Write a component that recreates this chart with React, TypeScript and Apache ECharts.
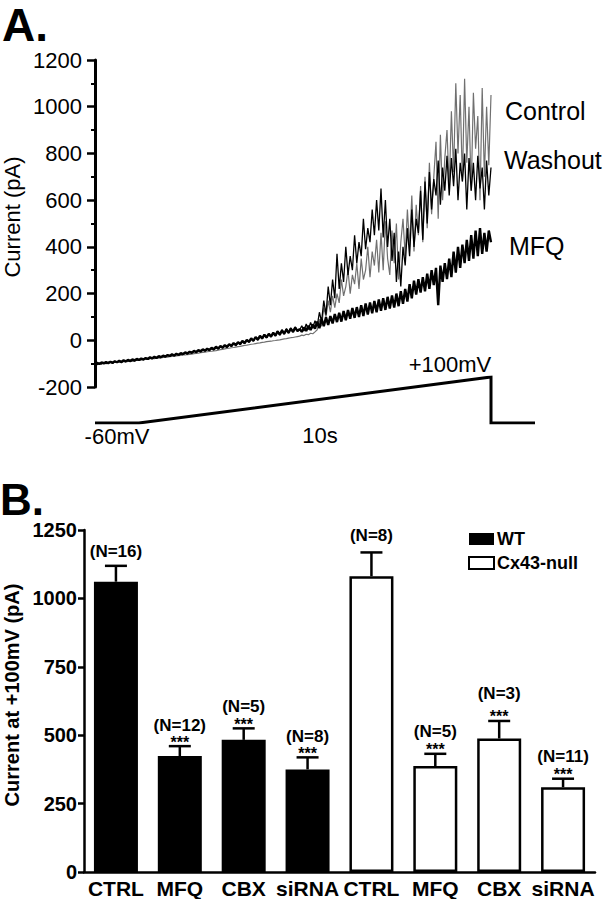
import React, { useEffect, useRef } from "react";
import * as echarts from "echarts";

const TRACE_DT_S = 0.0625;
const CONTROL_PA = [
  -100, -99, -101, -98, -97, -99, -96, -95, -97, -94, -93, -95, -92, -91, -93, -90, -89, -90, -87, -86,
  -84, -85, -82, -81, -82, -79, -78, -79, -76, -75, -76, -73, -72, -72, -70, -69, -69, -67, -66, -65,
  -63, -63, -61, -60, -59, -57, -56, -55, -53, -52, -51, -49, -48, -47, -45, -44, -42, -40, -39, -37,
  -35, -34, -32, -31, -29, -27, -26, -24, -22, -21, -19, -17, -16, -14, -12, -11, -9, -8, -6, -5,
  -4, -2, -1, 1, 2, 4, 6, 7, 9, 11, 12, 14, 16,
  18, 22, 20, 26, 24, 30, 28, 36,
  45, 90, 60, 140, 100, 170, 120, 190, 140, 200,
  160, 260, 190, 230, 300, 200, 280, 240, 330, 220,
  350, 260, 300, 400, 270, 380, 320, 430, 290, 460,
  300, 510, 350, 280, 470, 330, 500, 260, 420, 520,
  360, 560, 400, 620, 380, 580, 450, 660, 420, 700,
  480, 760, 540, 700, 850, 520, 880, 600, 780, 900,
  650, 980, 720, 1100, 800, 1050, 680, 1120, 760, 1000,
  640, 1060, 820, 960, 600, 1080, 700, 1000, 750, 1050,
];
const WASHOUT_PA = [
  -96, -104, -98, -102, -94, -100, -95, -92, -99, -90, -94, -88, -96, -89, -91, -86, -92, -84, -89, -83,
  -86, -80, -84, -77, -82, -75, -79, -73, -77, -70, -74, -68, -71, -65, -69, -63, -66, -60, -64, -58,
  -61, -55, -59, -52, -56, -48, -53, -45, -50, -42, -47, -39, -44, -36, -41, -32, -37, -28, -34, -25,
  -31, -20, -27, -14, -24, -10, -19, -4, -14, 0, -9, 6, -4, 12, 0, 18, 6, 24, 10, 28,
  14, 34, 18, 40, 22, 46, 26, 50, 30, 54, 34, 58, 38,
  44, 62, 40, 70, 46, 76, 52, 84,
  60, 120, 80, 170, 110, 230, 150, 260, 180, 370,
  220, 330, 250, 400, 280, 360, 300, 450, 330, 420,
  360, 520, 390, 480, 420, 560, 450, 600, 470, 650,
  440, 600, 400, 520, 340, 460, 250, 380, 230, 400,
  320, 480, 360, 560, 400, 520, 460, 640, 430, 680,
  500, 720, 560, 690, 620, 770, 580, 740, 640, 790,
  620, 780, 660, 820, 600, 760, 680, 800, 560, 780,
  640, 760, 600, 790, 650, 740, 560, 770, 620, 740,
];
const MFQ_PA = [
  -104, -97, -101, -95, -99, -93, -98, -92, -96, -90, -94, -88, -92, -86, -90, -84, -88, -82, -86, -80,
  -84, -78, -82, -76, -80, -73, -77, -71, -75, -68, -72, -66, -70, -63, -67, -60, -65, -58, -62, -55,
  -59, -52, -56, -49, -53, -45, -50, -42, -47, -39, -44, -36, -41, -32, -38, -28, -35, -25, -31, -21,
  -28, -17, -24, -12, -20, -8, -16, -3, -12, 2, -7, 8, -2, 14, 3, 19, 8, 24, 12, 28,
  16, 32, 20, 38, 24, 42, 28, 46, 32, 50, 36, 54, 40,
  48, 36, 55, 40, 62, 44, 68, 50,
  80, 52, 92, 60, 98, 66, 104, 72, 112, 78,
  118, 80, 125, 86, 130, 92, 138, 96, 142, 100,
  150, 104, 158, 110, 162, 116, 168, 120, 175, 126,
  180, 130, 186, 136, 192, 140, 200, 146, 210, 156,
  220, 166, 240, 180, 255, 196, 262, 204, 270, 210,
  285, 220, 300, 236, 310, 150, 320, 250, 330, 262,
  350, 270, 380, 290, 400, 310, 410, 330, 430, 340,
  450, 350, 470, 360, 480, 370, 460, 380, 470, 420,
];
const TRACE_NAMES = ["Control", "Washout", "MFQ"];
const PROTOCOL_T_S = [0, 1.25, 11.25, 11.25, 12.5];
const PROTOCOL_MV = [-60, -60, 100, -60, -60];
const PROTOCOL_LABELS = ["-60mV", "10s", "+100mV"];

// ---------- Panel B data ----------
const CATEGORY_KEYS = ["WT-CTRL", "WT-MFQ", "WT-CBX", "WT-siRNA", "KO-CTRL", "KO-MFQ", "KO-CBX", "KO-siRNA"];
const TREATMENTS = ["CTRL", "MFQ", "CBX", "siRNA"];
const GROUPS = ["WT", "Cx43-null"];
const WT_MEAN = [1061, 424, 483, 375];
const WT_SEM = [58, 36, 42, 44];
const NULL_MEAN = [1081, 387, 488, 310];
const NULL_SEM = [87, 45, 64, 31];
const WT_N = [16, 12, 5, 8];
const NULL_N = [8, 5, 3, 11];
const WT_SIG = ["", "***", "***", "***"];
const NULL_SIG = ["", "***", "***", "***"];

// ---------- layout (not data) ----------
const WT_N_LIFT = [14, 21, 22, 21];
const NULL_N_LIFT = [17, 22, 27, 22];
const FONT = "'Liberation Sans', Arial, Helvetica, sans-serif";

export default function App() {
  const ref = useRef<HTMLDivElement>(null);

  useEffect(() => {
    if (!ref.current) return;
    const chart = echarts.init(ref.current, undefined, { renderer: "svg" });

    const toXY = (arr: number[]) => arr.map((v, i) => [i * TRACE_DT_S, v]);
    const protocol = PROTOCOL_T_S.map((t, i) => [t, PROTOCOL_MV[i]]);

    const wtBar = [...WT_MEAN, "-", "-", "-", "-"];
    const nullBar = ["-", "-", "-", "-", ...NULL_MEAN];

    const errData: number[][] = [];
    const errMeta: { n: number; sig: string; lift: number }[] = [];
    WT_MEAN.forEach((m, i) => {
      errData.push([i, m, m + WT_SEM[i]]);
      errMeta.push({ n: WT_N[i], sig: WT_SIG[i], lift: WT_N_LIFT[i] });
    });
    NULL_MEAN.forEach((m, i) => {
      errData.push([i + 4, m, m + NULL_SEM[i]]);
      errMeta.push({ n: NULL_N[i], sig: NULL_SIG[i], lift: NULL_N_LIFT[i] });
    });

    const option: any = {
      animation: false,
      backgroundColor: "#fff",
      textStyle: { fontFamily: FONT, color: "#000" },
      grid: [
        { left: 95, top: 60, width: 440, height: 327 },
        { left: 95, top: 377, width: 440, height: 46 },
        { left: 84, top: 530, width: 511, height: 342 },
      ],
      legend: {
        orient: "vertical",
        left: 463,
        top: 525,
        itemWidth: 25,
        itemHeight: 12,
        itemGap: 6,
        icon: "rect",
        selectedMode: false,
        data: GROUPS,
        textStyle: { fontFamily: FONT, fontWeight: "bold", fontSize: 18, color: "#000", padding: [0, 0, 0, -2] },
      },
      xAxis: [
        { gridIndex: 0, type: "value", min: 0, max: 12.5, show: false },
        { gridIndex: 1, type: "value", min: 0, max: 12.5, show: false },
        {
          gridIndex: 2,
          type: "category",
          data: CATEGORY_KEYS,
          axisLine: { lineStyle: { color: "#000", width: 2.5 } },
          axisTick: { alignWithLabel: true, length: 5, lineStyle: { color: "#000", width: 2 } },
          axisLabel: {
            formatter: (_v: string, idx: number) => TREATMENTS[idx % 4],
            fontFamily: FONT,
            fontWeight: "bold",
            fontSize: 21,
            color: "#000",
            margin: 6,
            interval: 0,
          },
        },
      ],
      yAxis: [
        {
          gridIndex: 0,
          type: "value",
          min: -200,
          max: 1200,
          interval: 200,
          splitLine: { show: false },
          axisLine: { show: true, onZero: false, lineStyle: { color: "#000", width: 3 } },
          axisTick: { show: true, length: 8, lineStyle: { color: "#000", width: 2.5 } },
          minorTick: { show: true, splitNumber: 2, length: 4, lineStyle: { color: "#000", width: 2 } },
          axisLabel: { fontFamily: FONT, fontSize: 22, color: "#000", margin: 13, formatter: (v: number) => String(v) },
        },
        { gridIndex: 1, type: "value", min: -60, max: 100, show: false },
        {
          gridIndex: 2,
          type: "value",
          min: 0,
          max: 1250,
          interval: 250,
          splitLine: { show: false },
          axisLine: { show: true, lineStyle: { color: "#000", width: 2.5 } },
          axisTick: { show: true, length: 6, lineStyle: { color: "#000", width: 2.5 } },
          axisLabel: { fontFamily: FONT, fontWeight: "bold", fontSize: 20, color: "#000", margin: 7, formatter: (v: number) => String(v) },
        },
      ],
      series: [
        {
          name: TRACE_NAMES[0],
          type: "line",
          xAxisIndex: 0,
          yAxisIndex: 0,
          data: toXY(CONTROL_PA),
          symbol: "none",
          lineStyle: { color: "#707070", width: 1.2 },
        },
        {
          name: TRACE_NAMES[1],
          type: "line",
          xAxisIndex: 0,
          yAxisIndex: 0,
          data: toXY(WASHOUT_PA),
          symbol: "none",
          lineStyle: { color: "#000", width: 1.3 },
        },
        {
          name: TRACE_NAMES[2],
          type: "line",
          xAxisIndex: 0,
          yAxisIndex: 0,
          data: toXY(MFQ_PA),
          symbol: "none",
          lineStyle: { color: "#000", width: 2.4 },
        },
        {
          name: "protocol",
          type: "line",
          xAxisIndex: 1,
          yAxisIndex: 1,
          data: protocol,
          symbol: "none",
          lineStyle: { color: "#000", width: 3, join: "miter" },
        },
        {
          name: GROUPS[0],
          type: "bar",
          xAxisIndex: 2,
          yAxisIndex: 2,
          data: wtBar,
          barWidth: 44,
          barGap: "-100%",
          itemStyle: { color: "#000", borderColor: "#000", borderWidth: 0 },
        },
        {
          name: GROUPS[1],
          type: "bar",
          xAxisIndex: 2,
          yAxisIndex: 2,
          data: nullBar,
          barWidth: 44,
          barGap: "-100%",
          itemStyle: { color: "#fff", borderColor: "#000", borderWidth: 2.5 },
        },
        {
          name: "err",
          type: "custom",
          xAxisIndex: 2,
          yAxisIndex: 2,
          z: 5,
          encode: { x: 0, y: [1, 2] },
          data: errData,
          renderItem: (params: any, api: any) => {
            const meta = errMeta[params.dataIndex];
            const cat = api.value(0);
            const base = api.coord([cat, api.value(1)]);
            const top = api.coord([cat, api.value(2)]);
            const x = base[0];
            const children: any[] = [
              { type: "line", shape: { x1: x, y1: base[1], x2: x, y2: top[1] }, style: { stroke: "#000", lineWidth: 2.5 } },
              { type: "line", shape: { x1: x - 11, y1: top[1], x2: x + 11, y2: top[1] }, style: { stroke: "#000", lineWidth: 2.5 } },
              {
                type: "text",
                x,
                y: top[1] - meta.lift,
                style: {
                  text: `(N=${meta.n})`,
                  fill: "#000",
                  fontFamily: FONT,
                  fontWeight: "bold",
                  fontSize: 17,
                  align: "center",
                  verticalAlign: "middle",
                },
              },
            ];
            if (meta.sig) {
              children.push({
                type: "text",
                x,
                y: top[1] - 4,
                style: {
                  text: meta.sig,
                  fill: "#000",
                  fontFamily: FONT,
                  fontWeight: "bold",
                  fontSize: 16,
                  align: "center",
                  verticalAlign: "middle",
                },
              });
            }
            return { type: "group", children };
          },
        },
      ],
      graphic: [
        { type: "text", x: 2, y: 25, style: { text: "A.", fontFamily: FONT, fontWeight: 900, fontSize: 46, fill: "#000", verticalAlign: "middle" } },
        { type: "text", x: 0, y: 499, style: { text: "B.", fontFamily: FONT, fontWeight: 900, fontSize: 44, fill: "#000", verticalAlign: "middle" } },
        {
          type: "text",
          x: 12,
          y: 217,
          rotation: Math.PI / 2,
          style: { text: "Current (pA)", fontFamily: FONT, fontSize: 22, fill: "#000", align: "center", verticalAlign: "middle" },
        },
        {
          type: "text",
          x: 12,
          y: 695,
          rotation: Math.PI / 2,
          style: { text: "Current at +100mV (pA)", fontFamily: FONT, fontWeight: "bold", fontSize: 20, fill: "#000", align: "center", verticalAlign: "middle" },
        },
        { type: "text", x: 505, y: 111, style: { text: TRACE_NAMES[0], fontFamily: FONT, fontSize: 25, fill: "#000", verticalAlign: "middle" } },
        { type: "text", x: 504, y: 160, style: { text: TRACE_NAMES[1], fontFamily: FONT, fontSize: 25, fill: "#000", verticalAlign: "middle" } },
        { type: "text", x: 509, y: 246, style: { text: TRACE_NAMES[2], fontFamily: FONT, fontSize: 25, fill: "#000", verticalAlign: "middle" } },
        { type: "text", x: 117, y: 436, style: { text: PROTOCOL_LABELS[0], fontFamily: FONT, fontSize: 22, fill: "#000", align: "center", verticalAlign: "middle" } },
        { type: "text", x: 320, y: 435, style: { text: PROTOCOL_LABELS[1], fontFamily: FONT, fontSize: 22, fill: "#000", align: "center", verticalAlign: "middle" } },
        { type: "text", x: 450, y: 364, style: { text: PROTOCOL_LABELS[2], fontFamily: FONT, fontSize: 22, fill: "#000", align: "center", verticalAlign: "middle" } },
      ],
    };

    chart.setOption(option);
    return () => chart.dispose();
  }, []);

  return (
    <div
      ref={ref}
      style={{ position: "fixed", left: 0, top: 0, width: 612, height: 899, background: "#fff" }}
    />
  );
}
